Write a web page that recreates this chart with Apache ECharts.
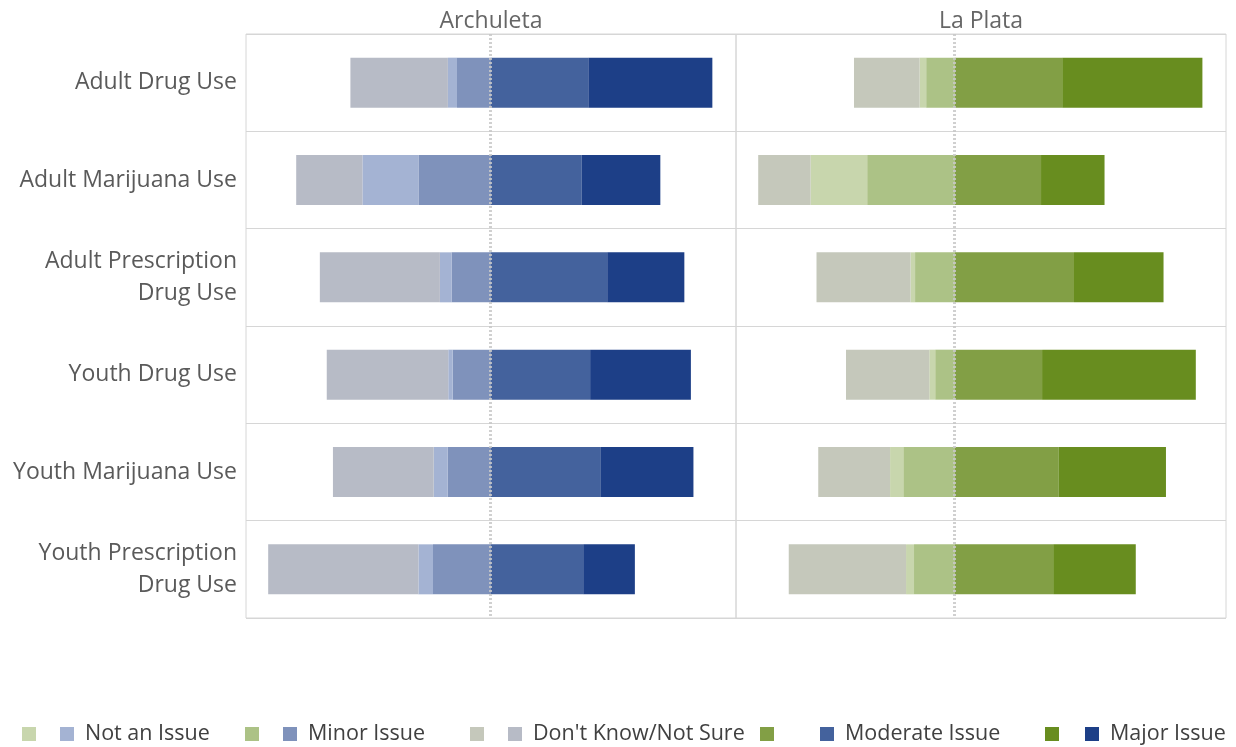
<!DOCTYPE html>
<html>
<head>
<meta charset="utf-8">
<script src="https://cdn.jsdelivr.net/npm/echarts@6/dist/echarts.min.js"></script>
<style>
html,body{margin:0;padding:0;background:#fff;}
#chart{width:1236px;height:747px;}
</style>
</head>
<body>
<div id="chart"></div>
<script>
// ---- data ----
const categories = ['Adult Drug Use','Adult Marijuana Use','Adult Prescription\nDrug Use','Youth Drug Use','Youth Marijuana Use','Youth Prescription\nDrug Use'];
const counties = ['Archuleta','La Plata'];
const responseLevels = ['Not an Issue','Minor Issue',"Don't Know/Not Sure",'Moderate Issue','Major Issue'];

// Archuleta (percent)
const archNotIssue  = [2.5, 15.4, 3.2, 1.2, 3.8, 4.0];
const archMinor     = [9.2, 19.8, 10.7, 10.4, 11.8, 15.8];
const archDontKnow  = [26.8, 18.2, 33.0, 33.4, 27.7, 41.3];
const archModerate  = [26.9, 25.1, 32.1, 27.4, 30.2, 25.5];
const archMajor     = [34.1, 21.6, 21.2, 27.7, 25.6, 14.2];

// La Plata (percent)
const lpNotIssue  = [1.9, 16.3, 1.3, 1.7, 3.8, 2.3];
const lpMinor     = [8.2, 25.2, 11.4, 5.6, 14.8, 11.7];
const lpDontKnow  = [18.9, 15.1, 27.1, 24.0, 20.7, 33.8];
const lpModerate  = [31.0, 24.9, 34.4, 25.2, 29.9, 28.4];
const lpMajor     = [40.4, 18.3, 25.8, 44.3, 31.0, 23.8];

// ---- styles ----
const blues  = {ni:'#a4b3d3', mi:'#7f92bb', dk:'#b7bbc6', mo:'#44629d', ma:'#1d3f87'};
const greens = {ni:'#c8d6ad', mi:'#acc286', dk:'#c5c8bb', mo:'#829f45', ma:'#688d1f'};
const FONT = '"Open Sans", "Noto Sans", sans-serif';
const gridLine = '#d6d6d6';

const neg = a => a.map(v => -v);

function countySeries(idx, d, pal) {
  const common = {type:'bar', stack:'s'+idx, xAxisIndex:idx, yAxisIndex:idx, barWidth:50, silent:true};
  return [
    Object.assign({}, common, {name:responseLevels[1]+idx, data:neg(d.mi), itemStyle:{color:pal.mi},
      markLine:{silent:true, symbol:'none', label:{show:false}, z:10,
        lineStyle:{color:'rgba(200,200,200,0.85)', width:3, type:[2,2]}, data:[{xAxis:0}]}}),
    Object.assign({}, common, {name:responseLevels[0]+idx, data:neg(d.ni), itemStyle:{color:pal.ni}}),
    Object.assign({}, common, {name:responseLevels[2]+idx, data:neg(d.dk), itemStyle:{color:pal.dk}}),
    Object.assign({}, common, {name:responseLevels[3]+idx, data:d.mo, itemStyle:{color:pal.mo}}),
    Object.assign({}, common, {name:responseLevels[4]+idx, data:d.ma, itemStyle:{color:pal.ma}})
  ];
}

const grids = [
  {left:246, top:34, width:490, height:584, show:true, borderColor:gridLine, borderWidth:1, containLabel:false},
  {left:736, top:34, width:490, height:584, show:true, borderColor:gridLine, borderWidth:1, containLabel:false}
];

const xAxes = [
  {type:'value', gridIndex:0, min:-67.2, max:67.5, show:false, splitLine:{show:false}},
  {type:'value', gridIndex:1, min:-63.0, max:78.2, show:false, splitLine:{show:false}}
];

const yAxes = [0,1].map(i => ({
  type:'category', gridIndex:i, data:categories, inverse:true,
  axisLine:{show:false}, axisTick:{show:false},
  splitLine:{show:true, lineStyle:{color:gridLine, width:1}},
  axisLabel:{show:i===0, fontFamily:FONT, fontSize:23, color:'#5a5a5a', margin:9, lineHeight:32, align:'right', padding:[5,0,0,0]}
}));

// legend built from graphic elements (two swatches per label)
const legendItems = [
  {g:greens.ni, b:blues.ni, t:responseLevels[0], x:22},
  {g:greens.mi, b:blues.mi, t:responseLevels[1], x:245},
  {g:greens.dk, b:blues.dk, t:responseLevels[2], x:470},
  {g:greens.mo, b:blues.mo, t:responseLevels[3], x:760},
  {g:greens.ma, b:blues.ma, t:responseLevels[4], x:1045}
];
const legendGaps = [38, 38, 38, 60, 40];
const graphics = [];
legendItems.forEach((it, i) => {
  graphics.push({type:'rect', left:it.x, top:727, shape:{width:14, height:14}, style:{fill:it.g}});
  graphics.push({type:'rect', left:it.x + legendGaps[i], top:727, shape:{width:14, height:14}, style:{fill:it.b}});
  graphics.push({type:'text', x:it.x + legendGaps[i] + 25, y:734,
    style:{text:it.t, fontFamily:FONT, fontSize:21.5, fill:'#404040', verticalAlign:'middle'}});
});
graphics.push({type:'text', x:491, y:21, style:{text:counties[0], fontFamily:FONT, fontSize:23, fill:'#666', align:'center', verticalAlign:'middle'}});
graphics.push({type:'text', x:981, y:21, style:{text:counties[1], fontFamily:FONT, fontSize:23, fill:'#666', align:'center', verticalAlign:'middle'}});

const option = {
  animation:false,
  backgroundColor:'#fff',
  grid:grids, xAxis:xAxes, yAxis:yAxes,
  graphic:graphics,
  series:[
    ...countySeries(0, {ni:archNotIssue, mi:archMinor, dk:archDontKnow, mo:archModerate, ma:archMajor}, blues),
    ...countySeries(1, {ni:lpNotIssue, mi:lpMinor, dk:lpDontKnow, mo:lpModerate, ma:lpMajor}, greens)
  ]
};
const chart = echarts.init(document.getElementById('chart'), null, {renderer:'canvas'});
chart.setOption(option);
</script>
</body>
</html>
